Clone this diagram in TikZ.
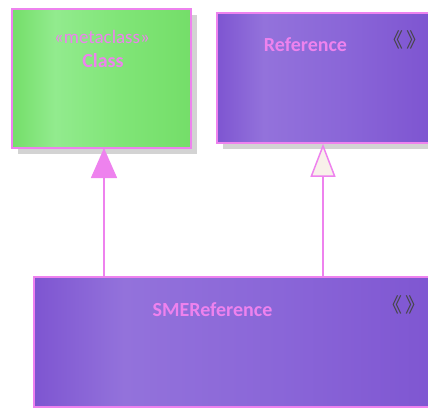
\documentclass[tikz,border=0pt]{standalone}
\usepackage{fontspec}
\setmainfont{Carlito}
\newfontfamily\cjkfont{Noto Sans CJK SC}
\usepackage{xcolor}
\usepackage{tikz}
\usetikzlibrary{arrows.meta,positioning,calc,shadows}
\definecolor{pinkline}{HTML}{EE82EE}
\definecolor{markgray}{HTML}{464646}
\definecolor{shadowgray}{HTML}{D3D3D3}
\definecolor{purpleedge}{HTML}{7E55D1}
\definecolor{purplelight}{HTML}{9372DB}
\definecolor{purplemid}{HTML}{8A66D8}
\definecolor{greenedge}{HTML}{74DE69}
\definecolor{greenlight}{HTML}{92EB8E}
\definecolor{greenmid}{HTML}{80E577}
\definecolor{hollowfill}{HTML}{F8F0EA}
\pgfdeclarehorizontalshading{purplebar}{100bp}{color(0bp)=(purpleedge); color(25bp)=(purpleedge); color(36bp)=(purplelight); color(55bp)=(purplemid); color(75bp)=(purpleedge); color(100bp)=(purpleedge)}
\pgfdeclarehorizontalshading{greenbar}{100bp}{color(0bp)=(greenedge); color(25bp)=(greenedge); color(37bp)=(greenlight); color(55bp)=(greenmid); color(75bp)=(greenedge); color(100bp)=(greenedge)}
\tikzset{
  >=Latex,
  every node/.style={text=pinkline},
  box/.style={draw=pinkline,line width=1.6pt,inner sep=0pt},
  shadowed/.style={drop shadow={shadow xshift=6pt,shadow yshift=-6pt,fill=shadowgray,opacity=1}},
  metabox/.style={box,shadowed,shading=greenbar},
  refbox/.style={box,shading=purplebar},
  title/.style={font=\fontsize{20}{24}\selectfont\bfseries},
  stereo/.style={font=\fontsize{19}{22}\selectfont},
  kwmark/.style={text=markgray,font=\cjkfont\fontsize{20}{24}\selectfont,inner sep=0pt},
  extends/.style={draw=pinkline,line width=1.5pt,-{Triangle[width=26pt,length=30pt,fill=pinkline]}},
  realizes/.style={draw=pinkline,line width=1.5pt,-{Triangle[open,width=25pt,length=33pt,fill=hollowfill]}}
}
\newcommand{\kwchevrons}{\kern-0.45em《\kern0.2em》\kern-0.45em}
\begin{document}
\begin{tikzpicture}[x=1pt,y=-1pt]
  \clip (0,0) rectangle (428,408);
  \useasboundingbox (0,0) rectangle (428,408);

  \node[metabox,minimum width=179pt,minimum height=139pt] (cls) at (101.5,78.5) {};
  \node[refbox,shadowed,minimum width=212pt,minimum height=130pt] (ref) at (323,78) {};
  \node[refbox,minimum width=408pt,minimum height=130pt] (sme) at (238,342) {};

  \node[stereo] (clsstereo) at (102,37) {«metaclass»};
  \node[title] (clsname) at (103,61) {Class};
  \node[title] (refname) at (305.5,45) {Reference};
  \node[kwmark] (refmark) at (405,40) {\kwchevrons};
  \node[title] (smename) at (212.5,310) {SMEReference};
  \node[kwmark] (smemark) at (404,305) {\kwchevrons};

  \coordinate (clsfoot) at (104,148);
  \draw[extends] (sme.north -| clsfoot) -- (clsfoot);
  \draw[realizes] (sme.north -| ref.south) -- (ref.south);
\end{tikzpicture}
\end{document}
